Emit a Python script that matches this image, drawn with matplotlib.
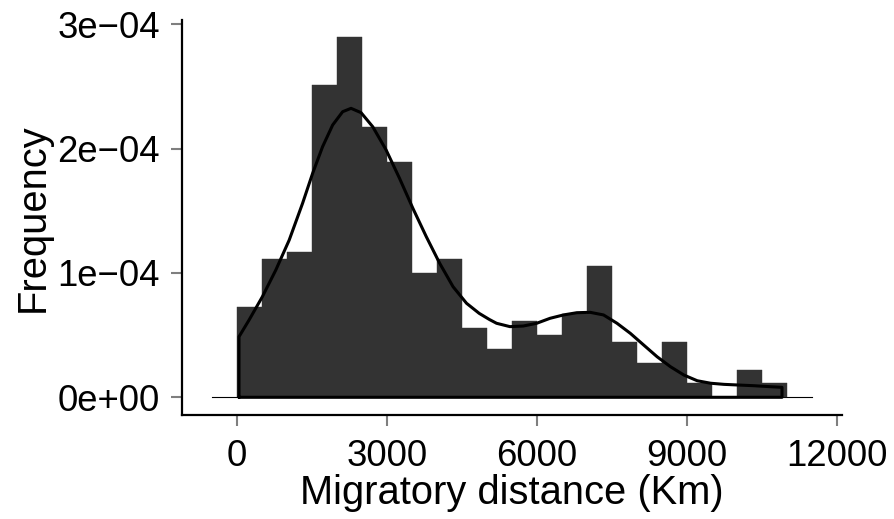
import matplotlib
matplotlib.use("Agg")
import matplotlib.pyplot as plt
import numpy as np

plt.rcParams['font.family'] = ['Liberation Sans', 'DejaVu Sans']

# Histogram: bin edges (km) and frequency (density, units of 1e-4)
bin_edges = [0, 500, 1000, 1500, 2000, 2500, 3000, 3500, 4000, 4500, 5000, 5500,
             6000, 6500, 7000, 7500, 8000, 8500, 9000, 9500, 10000, 10500, 11000]
freq_e4 = [0.724, 1.114, 1.170, 2.507, 2.897, 2.173, 1.894, 1.003, 1.114, 0.557, 0.390,
           0.613, 0.501, 0.669, 1.058, 0.446, 0.279, 0.446, 0.111, 0.0, 0.223, 0.111]

# Density curve, km and units of 1e-4
kde_x = [40, 241, 508, 776, 1044, 1311, 1512, 1712, 1913, 2113, 2281, 2482, 2715, 2983,
         3251, 3518, 3786, 4054, 4321, 4590, 4843, 5050, 5191, 5459, 5726, 5994, 6261,
         6529, 6797, 7064, 7331, 7600, 7867, 8134, 8402, 8669, 8937, 9205, 9472, 9739,
         10008, 10342, 10676, 10900]
kde_y_e4 = [0.487, 0.621, 0.809, 1.023, 1.264, 1.559, 1.800, 2.015, 2.189, 2.296, 2.323,
            2.288, 2.175, 1.988, 1.760, 1.519, 1.291, 1.077, 0.889, 0.756, 0.675, 0.625,
            0.595, 0.568, 0.573, 0.595, 0.635, 0.662, 0.680, 0.683, 0.662, 0.595, 0.514,
            0.420, 0.326, 0.246, 0.179, 0.133, 0.113, 0.104, 0.099, 0.093, 0.085, 0.080]

baseline_x = [-500, 11500]

x_ticks = [0, 3000, 6000, 9000, 12000]
y_ticks = [0, 1e-4, 2e-4, 3e-4]
y_tick_labels = ["0e+00", "1e\u221204", "2e\u221204", "3e\u221204"]

W, H = 894, 519
fig = plt.figure(figsize=(W / 100, H / 100), dpi=100)
left, right, top, bottom = 182, 842, 20.4, 415.2
ax = fig.add_axes([left / W, (H - bottom) / H, (right - left) / W, (bottom - top) / H])

# thin baseline
ax.plot(baseline_x, [0, 0], color='black', lw=0.8, zorder=1)

edges = np.array(bin_edges, dtype=float)
heights = np.array(freq_e4) * 1e-4
ax.bar(edges[:-1], heights, width=np.diff(edges), align='edge',
       color='#333333', edgecolor='#333333', linewidth=0.3, zorder=2)

# closed density outline
kx = np.array(kde_x, dtype=float)
ky = np.array(kde_y_e4) * 1e-4
px = np.concatenate([[kx[0]], kx, [kx[-1]], [kx[0]]])
py = np.concatenate([[0], ky, [0], [0]])
ax.plot(px, py, color='black', lw=2.2, solid_joinstyle='round', solid_capstyle='round',
        zorder=3)

ax.set_xlim(-1100, 12100)
ax.set_ylim(-0.144e-4, 3.03e-4)
ax.set_xticks(x_ticks)
ax.set_xticklabels([str(v) for v in x_ticks])
ax.set_yticks(y_ticks)
ax.set_yticklabels(y_tick_labels)

for s in ['top', 'right']:
    ax.spines[s].set_visible(False)
for s in ['left', 'bottom']:
    ax.spines[s].set_linewidth(1.6)
    ax.spines[s].set_color('black')

ax.tick_params(axis='both', direction='out', length=8, width=1.5, color='#7f7f7f',
               labelsize=26.3, labelcolor='black')
ax.tick_params(axis='x', pad=9)
ax.tick_params(axis='y', pad=8)

ax.set_xlabel("Migratory distance (Km)", fontsize=28.7, labelpad=0)
ax.set_ylabel("Frequency", fontsize=28.7, labelpad=4)

fig.savefig("out.png", dpi=100)
